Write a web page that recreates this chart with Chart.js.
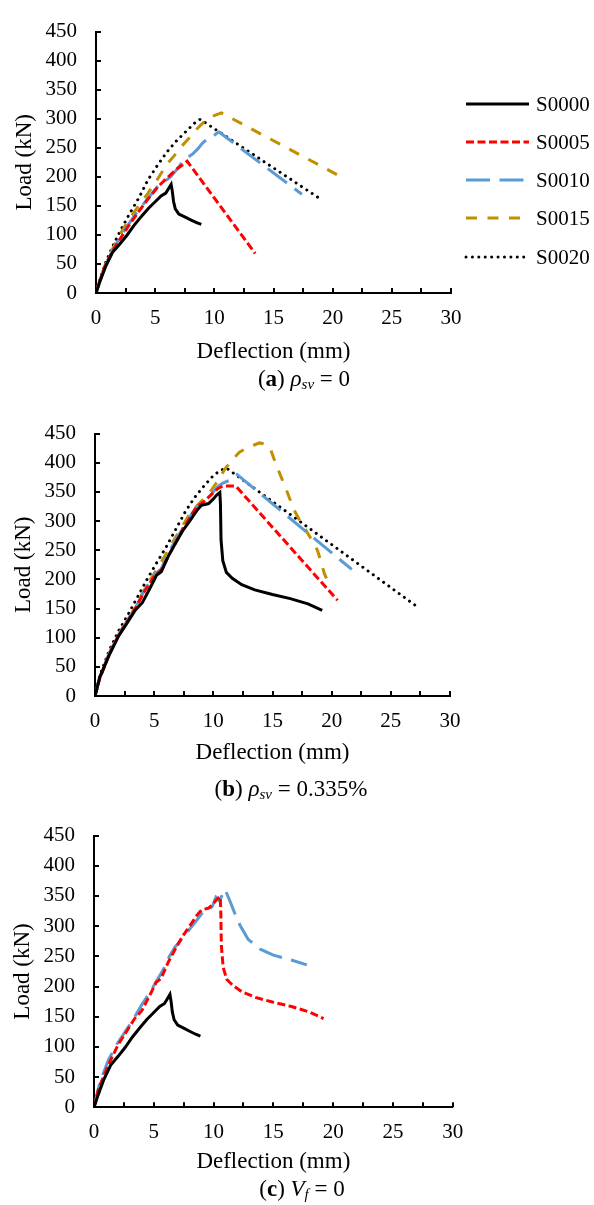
<!DOCTYPE html>
<html>
<head>
<meta charset="utf-8">
<script src="https://cdn.jsdelivr.net/npm/chart.js@4.4.1/dist/chart.umd.min.js"></script>
<style>
  html, body { margin: 0; padding: 0; background: #fff; }
  body { width: 594px; height: 1205px; position: relative; overflow: hidden; }
  canvas { position: absolute; left: 0; }
  .cap {
    position: absolute; width: 300px; text-align: center;
    font-family: "Liberation Serif", "Times New Roman", serif;
    font-size: 23px; line-height: 24px; color: #000; white-space: nowrap;
  }
  .cap sub { font-size: 15px; vertical-align: -3px; }
</style>
</head>
<body>
<canvas id="chartA"></canvas>
<canvas id="chartB"></canvas>
<canvas id="chartC"></canvas>
<div class="cap" style="left:154px; top:367px;">(<b>a</b>) <i>ρ<sub>sv</sub></i> = 0</div>
<div class="cap" style="left:141px; top:777px;">(<b>b</b>) <i>ρ<sub>sv</sub></i> = 0.335%</div>
<div class="cap" style="left:152px; top:1177px;">(<b>c</b>) <i>V<sub>f</sub></i> = 0</div>
<script>
// Axis ticks
const xTicks = [0, 5, 10, 15, 20, 25, 30];
const yTicks = [0, 50, 100, 150, 200, 250, 300, 350, 400, 450];

// ---- ρsv = 0 series (deflection mm, load kN) ----
const s0000X = [0, 0.3, 0.8, 1.4, 2.0, 2.6, 3.2, 3.8, 4.4, 5.0, 5.5, 5.9, 6.2, 6.35, 6.45, 6.55, 6.7, 7.0, 7.5, 8.0, 8.5, 8.9];
const s0000Y = [0, 18, 45, 70, 84, 99, 116, 131, 145, 157, 167, 172, 182, 187, 175, 158, 145, 136, 131, 126, 121, 118];

const s0005X = [0, 0.3, 0.8, 1.4, 2.0, 2.8, 3.6, 4.4, 5.2, 6.0, 6.8, 7.4, 7.7, 13.45];
const s0005Y = [0, 20, 48, 72, 92, 117, 140, 162, 182, 198, 213, 222, 227, 68];

const s0010X = [0, 0.3, 0.8, 1.4, 2.0, 2.8, 3.6, 4.4, 5.2, 5.8, 6.3, 6.8, 7.4, 7.8, 8.2, 8.6, 9.0, 9.4, 9.8, 10.2, 10.4, 17.4];
const s0010Y = [0, 20, 48, 73, 95, 120, 143, 163, 183, 192, 200, 212, 228, 234, 240, 248, 258, 265, 268, 275, 277, 170];

const s0015X = [0, 0.3, 0.8, 1.4, 2.0, 2.8, 3.6, 4.4, 5.2, 6.0, 6.6, 7.2, 7.8, 8.4, 9.0, 9.6, 10.2, 10.6, 20.9];
const s0015Y = [0, 20, 50, 76, 100, 127, 150, 172, 196, 222, 236, 252, 265, 280, 292, 302, 307, 310, 198];

const s0020X = [0, 0.3, 0.8, 1.4, 2.0, 2.8, 3.6, 4.4, 5.2, 6.0, 6.8, 7.6, 8.3, 8.8, 19.1];
const s0020Y = [0, 22, 52, 80, 105, 135, 163, 195, 220, 243, 262, 278, 292, 299, 160];

// ---- ρsv = 0.335% series ----
const s0300X = [0, 0.4, 1.2, 2.0, 2.8, 3.4, 4.0, 4.6, 5.2, 5.6, 6.2, 6.8, 7.4, 8.0, 8.6, 9.0, 9.6, 10.0, 10.3, 10.55, 10.6, 10.65, 10.8, 11.1, 11.6, 12.4, 13.5, 15.0, 16.5, 18.0, 19.2];
const s0300Y = [0, 32, 70, 103, 128, 147, 160, 183, 207, 213, 240, 262, 283, 300, 318, 327, 330, 338, 345, 349, 330, 268, 232, 212, 202, 191, 182, 174, 167, 158, 147];

const s0305X = [0, 0.4, 1.2, 2.0, 2.8, 3.4, 4.2, 5.0, 5.6, 6.2, 6.8, 7.4, 8.0, 8.6, 9.2, 9.8, 10.4, 10.8, 11.4, 11.9, 20.5];
const s0305Y = [0, 30, 72, 105, 130, 150, 180, 205, 216, 240, 262, 285, 305, 325, 333, 345, 356, 360, 360, 360, 164];

const s0310X = [0, 0.4, 1.2, 2.0, 2.8, 3.4, 4.2, 5.0, 5.6, 6.2, 6.8, 7.4, 8.0, 8.6, 9.2, 9.8, 10.4, 10.8, 11.4, 12.0, 21.7];
const s0310Y = [0, 32, 73, 106, 132, 150, 182, 208, 218, 246, 266, 287, 307, 325, 333, 345, 360, 365, 370, 380, 217];

const s0315X = [0, 0.4, 1.2, 2.0, 2.8, 3.4, 4.2, 5.0, 5.6, 6.2, 6.8, 7.4, 8.0, 8.6, 9.2, 9.8, 10.4, 11.0, 11.6, 12.2, 12.8, 13.4, 13.9, 14.4, 14.8, 15.1, 15.6, 16.2, 16.8, 17.3, 17.8, 18.3, 18.8, 19.1, 19.4, 19.6];
const s0315Y = [0, 30, 72, 106, 132, 152, 184, 210, 230, 250, 272, 292, 312, 326, 338, 352, 370, 390, 405, 418, 425, 430, 434, 432, 425, 408, 382, 352, 320, 301, 285, 268, 250, 230, 209, 200];

const s0320X = [0, 0.4, 1.2, 2.0, 2.8, 3.6, 4.4, 5.2, 6.0, 6.8, 7.6, 8.4, 9.2, 10.0, 10.6, 11.1, 27.3];
const s0320Y = [0, 35, 78, 112, 140, 170, 200, 228, 255, 285, 315, 340, 360, 378, 387, 391, 152];

// ---- Vf = 0 series (S0000 and S0300 as above) ----
const s0400X = [0, 0.5, 1.2, 1.9, 2.6, 3.3, 4.0, 4.6, 5.2, 5.8, 6.3, 6.8, 7.4, 8.0, 8.6, 9.2, 9.6, 9.9, 10.2, 10.5, 10.95, 11.3, 11.7, 12.2, 12.9, 13.9, 15.0, 16.5, 17.8];
const s0400Y = [0, 42, 78, 104, 125, 146, 170, 188, 208, 228, 250, 266, 280, 295, 310, 326, 327, 333, 348, 342, 361, 345, 325, 302, 278, 262, 252, 244, 236];

const seriesNamesA = ['S0000', 'S0005', 'S0010', 'S0015', 'S0020'];
const seriesNamesB = ['S0300', 'S0305', 'S0310', 'S0315', 'S0320'];
const seriesNamesC = ['S0000', 'S0300', 'S0400'];

// line styles
const STYLE = {
  solid:  { color: '#000000', dash: [], cap: 'butt', width: 3 },
  red:    { color: '#FF0000', dash: [8, 3.5], cap: 'butt', width: 3 },
  blue:   { color: '#5B9BD5', dash: [24, 9.5], cap: 'butt', width: 3 },
  gold:   { color: '#BF9000', dash: [11, 10.5], cap: 'butt', width: 3 },
  dotted: { color: '#000000', dash: [0.01, 6.4], cap: 'round', width: 3 }
};

const FONT = '"Liberation Serif", "Times New Roman", serif';

function toPoints(xs, ys) {
  return xs.map((x, i) => ({ x: x, y: ys[i] }));
}

function dataset(label, xs, ys, style) {
  return {
    label: label,
    data: toPoints(xs, ys),
    borderColor: style.color,
    backgroundColor: style.color,
    borderDash: style.dash,
    borderCapStyle: style.cap,
    borderWidth: style.width,
    pointRadius: 0,
    tension: 0,
    fill: false
  };
}

// inward tick marks on both axes
const innerTicks = {
  id: 'innerTicks',
  afterDraw(chart) {
    const { ctx, chartArea, scales } = chart;
    ctx.save();
    ctx.strokeStyle = '#000';
    ctx.lineWidth = 2;
    ctx.beginPath();
    yTicks.forEach(v => {
      const py = Math.round(scales.y.getPixelForValue(v));
      ctx.moveTo(chartArea.left, py);
      ctx.lineTo(chartArea.left + 5, py);
    });
    for (let v = 0; v <= 30; v += 2.5) {
      const px = Math.round(scales.x.getPixelForValue(v));
      ctx.moveTo(px, chartArea.bottom);
      ctx.lineTo(px, chartArea.bottom - 5);
    }
    ctx.stroke();
    ctx.restore();
  }
};

// series key drawn to the right of the plot
const sideLegend = {
  id: 'sideLegend',
  afterDraw(chart, args, opts) {
    const { ctx } = chart;
    ctx.save();
    chart.data.datasets.forEach((ds, i) => {
      const y = opts.rows[i];
      ctx.beginPath();
      ctx.strokeStyle = ds.borderColor;
      ctx.lineWidth = ds.borderWidth;
      ctx.lineCap = ds.borderCapStyle;
      ctx.setLineDash(ds.borderDash || []);
      ctx.moveTo(466, y);
      ctx.lineTo(529, y);
      ctx.stroke();
      ctx.setLineDash([]);
      ctx.fillStyle = '#000';
      ctx.font = '21px ' + FONT;
      ctx.textBaseline = 'middle';
      ctx.textAlign = 'left';
      ctx.fillText(ds.label, 536, y + 1);
    });
    ctx.restore();
  }
};

function makePanel(id, box, datasets, rows) {
  const canvas = document.getElementById(id);
  canvas.width = 594;
  canvas.height = box.canvasH;
  canvas.style.top = box.canvasTop + 'px';
  canvas.style.width = '594px';
  canvas.style.height = box.canvasH + 'px';

  return new Chart(canvas, {
    type: 'line',
    data: { datasets: datasets },
    plugins: [innerTicks, sideLegend],
    options: {
      responsive: false,
      animation: false,
      devicePixelRatio: 1,
      layout: {
        padding: {
          top: box.top - box.canvasTop,
          left: 0,
          right: 594 - box.right,
          bottom: box.canvasH - (box.bottom - box.canvasTop) - box.xAxisH
        }
      },
      plugins: {
        legend: { display: false },
        tooltip: { enabled: false },
        sideLegend: { rows: rows }
      },
      scales: {
        x: {
          type: 'linear',
          min: 0, max: 30,
          afterFit: s => { s.height = box.xAxisH; },
          afterBuildTicks: s => { s.ticks = xTicks.map(v => ({ value: v })); },
          grid: { display: true, drawOnChartArea: false, drawTicks: false },
          border: { display: true, color: '#000', width: 2 },
          ticks: { color: '#000', padding: 12.5, maxRotation: 0, font: { family: FONT, size: 21 } },
          title: {
            display: true, text: 'Deflection (mm)', color: '#000',
            padding: { top: 0, bottom: 0 },
            font: { family: FONT, size: 23 }
          }
        },
        y: {
          min: 0, max: 450,
          afterFit: s => { s.width = box.left; },
          afterBuildTicks: s => { s.ticks = yTicks.map(v => ({ value: v })); },
          grid: { display: true, drawOnChartArea: false, drawTicks: false },
          border: { display: true, color: '#000', width: 2 },
          ticks: { color: '#000', padding: 19, font: { family: FONT, size: 21 } },
          title: {
            display: true, text: 'Load (kN)', color: '#000',
            padding: { top: box.yTitlePad, bottom: 0 },
            font: { family: FONT, size: 23 }
          }
        }
      }
    }
  });
}

makePanel('chartA',
  { canvasTop: 0, canvasH: 402, top: 22, bottom: 293, left: 96, right: 451, xAxisH: 72.4, yTitlePad: 11 },
  [
    dataset(seriesNamesA[0], s0000X, s0000Y, STYLE.solid),
    dataset(seriesNamesA[1], s0005X, s0005Y, STYLE.red),
    dataset(seriesNamesA[2], s0010X, s0010Y, STYLE.blue),
    dataset(seriesNamesA[3], s0015X, s0015Y, STYLE.gold),
    dataset(seriesNamesA[4], s0020X, s0020Y, STYLE.dotted)
  ],
  [104, 142, 180, 218, 257]);

makePanel('chartB',
  { canvasTop: 402, canvasH: 402, top: 428.3, bottom: 696, left: 95, right: 450, xAxisH: 70.3, yTitlePad: 10 },
  [
    dataset(seriesNamesB[0], s0300X, s0300Y, STYLE.solid),
    dataset(seriesNamesB[1], s0305X, s0305Y, STYLE.red),
    dataset(seriesNamesB[2], s0310X, s0310Y, STYLE.blue),
    dataset(seriesNamesB[3], s0315X, s0315Y, STYLE.gold),
    dataset(seriesNamesB[4], s0320X, s0320Y, STYLE.dotted)
  ],
  [509, 548, 586, 624, 663]);

makePanel('chartC',
  { canvasTop: 804, canvasH: 401, top: 830, bottom: 1107.3, left: 94, right: 452.7, xAxisH: 68.2, yTitlePad: 9 },
  [
    dataset(seriesNamesC[0], s0000X, s0000Y, STYLE.solid),
    dataset(seriesNamesC[1], s0300X, s0300Y, STYLE.red),
    dataset(seriesNamesC[2], s0400X, s0400Y, STYLE.blue)
  ],
  [951, 990, 1028]);
</script>
</body>
</html>
